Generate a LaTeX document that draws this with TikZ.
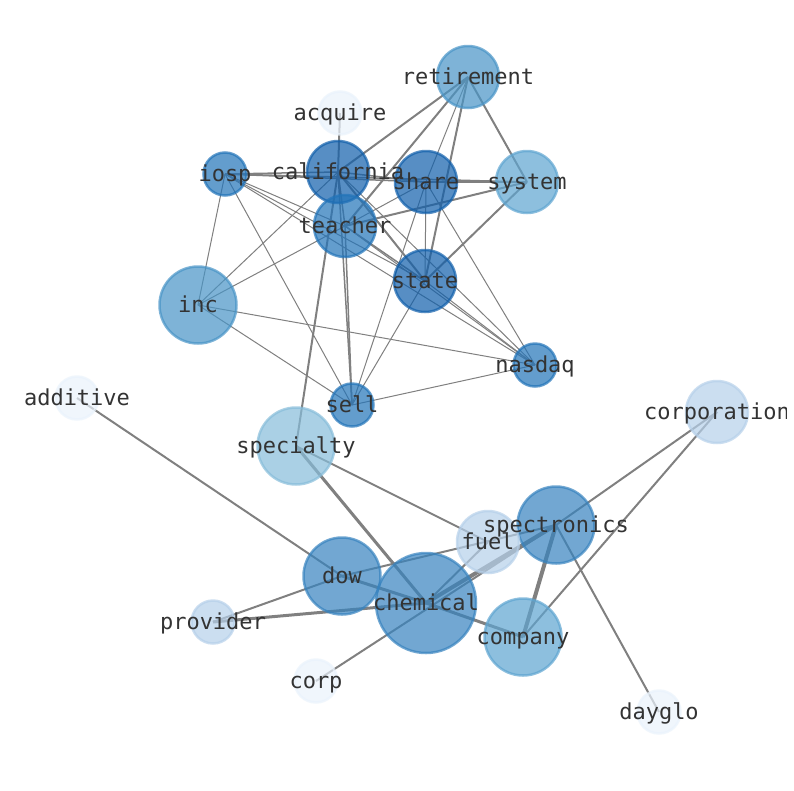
\documentclass[tikz,border=0pt]{standalone}
\usepackage{fontspec}
\setmonofont{DejaVu Sans Mono}
\usetikzlibrary{backgrounds}
\definecolor{labc}{RGB}{51,51,51}
\definecolor{edgec}{RGB}{128,128,128}
\definecolor{ca}{RGB}{16,95,171}
\definecolor{cb}{RGB}{34,116,185}
\definecolor{cc}{RGB}{55,131,191}
\definecolor{cd}{RGB}{72,148,199}
\definecolor{ce}{RGB}{94,165,209}
\definecolor{cf}{RGB}{135,189,218}
\definecolor{cg}{RGB}{182,208,234}
\definecolor{ch}{RGB}{234,243,252}
\tikzset{
  nd/.style={circle, inner sep=0pt, line width=2.5pt, fill opacity=0.7, draw opacity=0.7},
  sz/.style={nd, minimum size=43pt},
  mz/.style={nd, minimum size=62pt},
  lz/.style={nd, minimum size=77pt},
  xz/.style={nd, minimum size=100pt},
  ka/.style={fill=ca, draw=ca}, kb/.style={fill=cb, draw=cb},
  kc/.style={fill=cc, draw=cc}, kd/.style={fill=cd, draw=cd},
  ke/.style={fill=ce, draw=ce}, kf/.style={fill=cf, draw=cf},
  kg/.style={fill=cg, draw=cg}, kh/.style={fill=ch, draw=ch},
  lbl/.style={font=\ttfamily\fontsize{22}{26}\selectfont, text=labc, inner sep=0pt, text height=20.4pt, text depth=5.2pt},
  ea/.style={draw=edgec, line width=1pt},
  eb/.style={draw=edgec, line width=1.5pt},
  ec/.style={draw=edgec, line width=2pt},
  ed/.style={draw=edgec, line width=3pt},
  ee/.style={draw=edgec, line width=4pt},
}
\begin{document}
\begin{tikzpicture}[x=1pt,y=-1pt]
\useasboundingbox (0,0) rectangle (794,790);
% nodes
\node[mz,kd] (retirement) at (468,77) {};
\node[sz,kh] (acquire) at (340,113) {};
\node[mz,ka] (california) at (338,172) {};
\node[sz,kb] (iosp) at (225,174) {};
\node[mz,ka] (share) at (426,182) {};
\node[mz,ke] (system) at (527,182) {};
\node[mz,kb] (teacher) at (345,226) {};
\node[mz,ka] (state) at (425,281) {};
\node[lz,kd] (inc) at (198,305) {};
\node[sz,kb] (nasdaq) at (535,365) {};
\node[sz,kb] (sell) at (352,405) {};
\node[sz,kh] (additive) at (77,398) {};
\node[mz,kg] (corporation) at (717,412) {};
\node[lz,kf] (specialty) at (296,446) {};
\node[lz,kc] (spectronics) at (556,525) {};
\node[mz,kg] (fuel) at (488,542) {};
\node[lz,kc] (dow) at (342,576) {};
\node[xz,kc] (chemical) at (426,603) {};
\node[sz,kg] (provider) at (213,622) {};
\node[lz,ke] (company) at (523,637) {};
\node[sz,kh] (corp) at (316,681) {};
\node[sz,kh] (dayglo) at (659,712) {};
% edges
\begin{scope}[on background layer]
\fill[white] (0,0) rectangle (794,790);
\draw[ec] (retirement.center) -- (california.center);
\draw[ec] (retirement.center) -- (teacher.center);
\draw[ea] (retirement.center) -- (share.center);
\draw[ec] (retirement.center) -- (state.center);
\draw[ec] (retirement.center) -- (system.center);
\draw[ec] (acquire.center) -- (california.center);
\draw[eb] (iosp.center) -- (california.center);
\draw[eb] (iosp.center) -- (share.center);
\draw[eb] (iosp.center) -- (system.center);
\draw[ea] (iosp.center) -- (teacher.center);
\draw[ea] (iosp.center) -- (state.center);
\draw[ea] (iosp.center) -- (nasdaq.center);
\draw[ea] (iosp.center) -- (inc.center);
\draw[ea] (iosp.center) -- (sell.center);
\draw[eb] (california.center) -- (share.center);
\draw[eb] (california.center) -- (teacher.center);
\draw[ec] (california.center) -- (state.center);
\draw[ea] (california.center) -- (nasdaq.center);
\draw[ea] (california.center) -- (inc.center);
\draw[eb] (california.center) -- (sell.center);
\draw[ec] (california.center) -- (specialty.center);
\draw[ea] (teacher.center) -- (share.center);
\draw[ec] (teacher.center) -- (system.center);
\draw[eb] (teacher.center) -- (state.center);
\draw[ea] (teacher.center) -- (inc.center);
\draw[eb] (teacher.center) -- (sell.center);
\draw[ea] (teacher.center) -- (nasdaq.center);
\draw[ec] (share.center) -- (system.center);
\draw[ea] (share.center) -- (state.center);
\draw[ea] (share.center) -- (nasdaq.center);
\draw[ea] (share.center) -- (sell.center);
\draw[ec] (state.center) -- (system.center);
\draw[ea] (state.center) -- (sell.center);
\draw[ea] (state.center) -- (nasdaq.center);
\draw[ea] (inc.center) -- (nasdaq.center);
\draw[ea] (inc.center) -- (sell.center);
\draw[ea] (sell.center) -- (nasdaq.center);
\draw[ec] (additive.center) -- (dow.center);
\draw[ed] (specialty.center) -- (chemical.center);
\draw[ec] (specialty.center) -- (fuel.center);
\draw[ed] (dow.center) -- (chemical.center);
\draw[ec] (dow.center) -- (provider.center);
\draw[ec] (dow.center) -- (spectronics.center);
\draw[ed] (provider.center) -- (chemical.center);
\draw[ee] (chemical.center) -- (spectronics.center);
\draw[ec] (chemical.center) -- (fuel.center);
\draw[ec] (corp.center) -- (spectronics.center);
\draw[ed] (chemical.center) -- (company.center);
\draw[ee] (spectronics.center) -- (company.center);
\draw[ec] (spectronics.center) -- (corporation.center);
\draw[ec] (spectronics.center) -- (dayglo.center);
\draw[ec] (company.center) -- (corporation.center);
\end{scope}
% labels
\node[lbl] (l-retirement) at (retirement.center) {retirement};
\node[lbl] (l-acquire) at (acquire.center) {acquire};
\node[lbl] (l-california) at (california.center) {california};
\node[lbl] (l-iosp) at (iosp.center) {iosp};
\node[lbl] (l-share) at (share.center) {share};
\node[lbl] (l-system) at (system.center) {system};
\node[lbl] (l-teacher) at (teacher.center) {teacher};
\node[lbl] (l-state) at (state.center) {state};
\node[lbl] (l-inc) at (inc.center) {inc};
\node[lbl] (l-nasdaq) at (nasdaq.center) {nasdaq};
\node[lbl] (l-sell) at (sell.center) {sell};
\node[lbl] (l-additive) at (additive.center) {additive};
\begin{scope}
\clip (0,0) rectangle (786,790);
\node[lbl] (l-corporation) at (corporation.center) {corporation};
\end{scope}
\node[lbl] (l-specialty) at (specialty.center) {specialty};
\node[lbl] (l-spectronics) at (spectronics.center) {spectronics};
\node[lbl] (l-fuel) at (fuel.center) {fuel};
\node[lbl] (l-dow) at (dow.center) {dow};
\node[lbl] (l-chemical) at (chemical.center) {chemical};
\node[lbl] (l-provider) at (provider.center) {provider};
\node[lbl] (l-company) at (company.center) {company};
\node[lbl] (l-corp) at (corp.center) {corp};
\node[lbl] (l-dayglo) at (dayglo.center) {dayglo};
\end{tikzpicture}
\end{document}
